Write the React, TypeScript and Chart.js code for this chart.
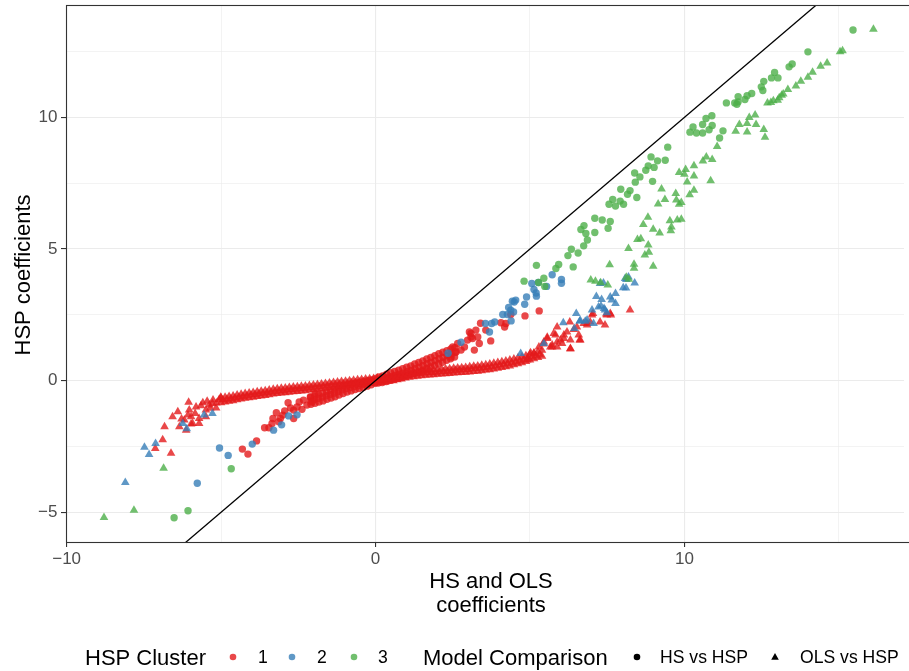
import React, { useEffect, useRef } from "react";
import { Chart, registerables } from "chart.js";

Chart.register(...registerables);

const FONT = '"Liberation Sans", Arial, Helvetica, sans-serif';

// ---- axis settings / ticks ----
const xMin = -10.02;
const xMax = 17.11;
const yMin = -6.13;
const yMax = 14.27;
const xMajorTicks = [-10, 0, 10];
const yMajorTicks = [-5, 0, 5, 10];

const xTitleLines = ["HS and OLS", "coefficients"];
const yTitle = "HSP coefficients";
const clusterLegendTitle = "HSP Cluster";
const clusterLabels = ["1", "2", "3"];
const modelLegendTitle = "Model Comparison";
const modelLabels = ["HS vs HSP", "OLS vs HSP"];

// ---- data: [HS/OLS coefficient, HSP coefficient] ----
// Cluster 1, HS vs HSP (circles)
const hsCluster1: number[][] = [
  [-2.10,-0.63],[-2.10,-0.77],[-2.09,-0.90],
  [-1.97,-0.58],[-1.98,-0.72],[-1.96,-0.86],
  [-1.84,-0.53],[-1.85,-0.67],[-1.83,-0.81],
  [-1.71,-0.48],[-1.72,-0.62],[-1.70,-0.77],
  [-1.58,-0.43],[-1.59,-0.57],[-1.57,-0.71],
  [-1.45,-0.38],[-1.46,-0.52],[-1.44,-0.66],
  [-1.32,-0.33],[-1.33,-0.47],[-1.31,-0.61],
  [-1.19,-0.28],[-1.20,-0.41],[-1.18,-0.55],
  [-1.06,-0.22],[-1.07,-0.35],[-1.05,-0.49],
  [-0.93,-0.17],[-0.94,-0.30],[-0.92,-0.43],
  [-0.80,-0.13],[-0.81,-0.26],[-0.79,-0.39],
  [-0.67,-0.10],[-0.68,-0.22],[-0.66,-0.34],
  [-0.54,-0.07],[-0.55,-0.19],[-0.53,-0.30],
  [-0.41,-0.04],[-0.42,-0.15],[-0.40,-0.26],
  [-0.28,-0.01],[-0.29,-0.11],[-0.27,-0.21],
  [-0.15,0.02],[-0.16,-0.07],[-0.14,-0.16],
  [-0.02,0.06],[-0.03,-0.02],[-0.01,-0.10],
  [0.10,0.14],[0.11,0.02],[0.09,-0.09],
  [0.23,0.18],[0.24,0.05],[0.22,-0.07],
  [0.36,0.24],[0.37,0.10],[0.35,-0.03],
  [0.49,0.30],[0.50,0.15],[0.48,0.01],
  [0.62,0.35],[0.63,0.20],[0.61,0.05],
  [0.75,0.40],[0.76,0.24],[0.74,0.09],
  [0.88,0.45],[0.89,0.28],[0.87,0.12],
  [1.01,0.51],[1.02,0.34],[1.00,0.17],
  [1.14,0.56],[1.15,0.39],[1.13,0.22],
  [1.27,0.63],[1.28,0.45],[1.26,0.27],
  [1.40,0.69],[1.41,0.51],[1.39,0.33],
  [1.53,0.75],[1.54,0.57],[1.52,0.39],
  [1.66,0.82],[1.67,0.64],[1.65,0.46],
  [1.79,0.88],[1.80,0.70],[1.78,0.52],
  [1.92,0.95],[1.93,0.76],[1.91,0.58],
  [2.05,1.02],[2.06,0.83],[2.04,0.64],
  [2.18,1.08],[2.19,0.89],[2.17,0.70],
  [2.31,1.14],[2.32,0.95],[2.30,0.77],
  [2.44,1.20],[2.45,1.01],[2.43,0.83],
  [2.57,1.25],[2.58,1.08],[2.56,0.90],
  [-2.33,-0.74],[-2.11,-0.62],[-2.06,-0.81],[-1.95,-0.49],[-2.47,-0.81],[-2.38,-1.09],
  [-2.22,-0.93],[-2.54,-1.00],[-2.65,-1.12],[-2.65,-1.44],[-2.83,-0.84],[-2.94,-1.15],
  [-3.08,-1.44],[-3.13,-1.56],[-3.21,-1.22],[-3.32,-1.44],[-3.35,-1.63],[-3.45,-1.79],
  [-3.59,-1.79],[-3.85,-2.29],[-4.13,-2.79],[-4.31,-2.60],[-2.75,-1.04],[-3.00,-1.31],
  [2.50,1.28],[2.66,1.41],[2.77,1.16],[2.88,1.28],[3.09,1.79],[3.14,1.60],[3.31,1.66],
  [3.36,1.41],[3.20,1.16],[3.40,2.18],[3.57,1.92],[3.73,1.51],[4.06,2.20],[4.22,2.17],
  [4.18,2.04],[4.38,2.51],[4.84,2.46],[5.30,2.65],[2.98,1.54],[3.25,1.92],[3.04,1.85],
  [2.61,1.09],[2.45,0.90],[3.09,1.66],
];

// Cluster 1, OLS vs HSP (triangles)
const olsCluster1: number[][] = [
  [-5.00,-0.66],[-5.00,-0.84],[-4.87,-0.63],[-4.87,-0.81],[-4.74,-0.60],[-4.74,-0.78],
  [-4.61,-0.58],[-4.61,-0.76],[-4.48,-0.55],[-4.48,-0.73],[-4.35,-0.52],[-4.35,-0.70],
  [-4.22,-0.49],[-4.22,-0.67],[-4.09,-0.47],[-4.09,-0.65],[-3.96,-0.45],[-3.96,-0.63],
  [-3.83,-0.42],[-3.83,-0.60],[-3.70,-0.40],[-3.70,-0.58],[-3.57,-0.38],[-3.57,-0.56],
  [-3.44,-0.36],[-3.44,-0.54],[-3.31,-0.33],[-3.31,-0.51],[-3.18,-0.31],[-3.18,-0.49],
  [-3.05,-0.29],[-3.05,-0.47],[-2.92,-0.28],[-2.92,-0.46],[-2.79,-0.26],[-2.79,-0.44],
  [-2.66,-0.24],[-2.66,-0.42],[-2.53,-0.23],[-2.53,-0.41],[-2.40,-0.21],[-2.40,-0.39],
  [-2.27,-0.20],[-2.27,-0.38],[-2.14,-0.18],[-2.14,-0.36],[-2.01,-0.17],[-2.01,-0.35],
  [-1.88,-0.15],[-1.88,-0.33],[-1.75,-0.13],[-1.75,-0.31],[-1.62,-0.11],[-1.62,-0.29],
  [-1.49,-0.09],[-1.49,-0.27],[-1.36,-0.07],[-1.36,-0.25],[-1.23,-0.05],[-1.23,-0.23],
  [-1.10,-0.03],[-1.10,-0.21],[-0.97,-0.02],[-0.97,-0.20],[-0.84,0.00],[-0.84,-0.18],
  [-0.71,0.01],[-0.71,-0.17],[-0.58,0.03],[-0.58,-0.15],[-0.45,0.04],[-0.45,-0.14],
  [-0.32,0.06],[-0.32,-0.12],[-0.19,0.07],[-0.19,-0.11],[-0.06,0.08],[-0.06,-0.10],
  [-4.94,-0.74],[-4.81,-0.71],[-4.68,-0.69],[-4.55,-0.66],[-4.42,-0.63],[-4.29,-0.60],
  [-4.16,-0.57],[-4.03,-0.55],[-3.90,-0.53],[-3.77,-0.50],[-3.64,-0.48],[-3.51,-0.46],
  [-3.38,-0.44],[-3.25,-0.41],[-3.12,-0.39],[-2.99,-0.38],[-2.86,-0.36],[-2.73,-0.34],
  [-2.60,-0.33],[-2.47,-0.31],[-2.34,-0.29],[-2.21,-0.28],[-2.08,-0.26],[-1.95,-0.25],
  [-1.82,-0.23],[-1.69,-0.21],[-1.56,-0.19],[-1.43,-0.17],[-1.30,-0.15],[-1.17,-0.13],
  [-1.04,-0.12],[-0.91,-0.10],[-0.78,-0.08],[-0.65,-0.07],[-0.52,-0.05],[-0.39,-0.04],
  [-0.26,-0.02],[-0.13,-0.01],
  [0.06,0.09],[0.06,-0.09],[0.19,0.11],[0.19,-0.07],[0.32,0.13],[0.32,-0.05],
  [0.45,0.16],[0.45,-0.02],[0.58,0.18],[0.58,0.00],[0.71,0.21],[0.71,0.03],
  [0.84,0.24],[0.84,0.06],[0.97,0.28],[0.97,0.10],[1.10,0.31],[1.10,0.13],
  [1.23,0.33],[1.23,0.15],[1.36,0.35],[1.36,0.17],[1.49,0.37],[1.49,0.19],
  [1.62,0.38],[1.62,0.20],[1.75,0.39],[1.75,0.21],[1.88,0.40],[1.88,0.22],
  [2.01,0.42],[2.01,0.24],[2.14,0.43],[2.14,0.25],[2.27,0.44],[2.27,0.26],
  [2.40,0.45],[2.40,0.27],[2.53,0.47],[2.53,0.29],[2.66,0.48],[2.66,0.30],
  [2.79,0.49],[2.79,0.31],[2.92,0.50],[2.92,0.32],[3.05,0.53],[3.05,0.33],
  [3.18,0.55],[3.18,0.35],[3.31,0.56],[3.31,0.36],[3.44,0.58],[3.44,0.38],
  [3.57,0.60],[3.57,0.40],[3.70,0.63],[3.70,0.41],[3.83,0.66],[3.83,0.44],
  [3.96,0.69],[3.96,0.47],[4.09,0.72],[4.09,0.50],[4.22,0.75],[4.22,0.53],
  [4.35,0.78],[4.35,0.56],[4.48,0.82],[4.48,0.60],[4.61,0.86],[4.61,0.64],
  [4.74,0.90],[4.74,0.68],[4.87,0.95],[4.87,0.73],[5.00,1.00],[5.00,0.78],
  [5.13,1.05],[5.13,0.83],[5.26,1.10],[5.26,0.88],[5.39,1.15],[5.39,0.93],
  [0.12,0.01],[0.25,0.03],[0.38,0.05],[0.51,0.08],[0.64,0.10],[0.77,0.13],
  [0.90,0.16],[1.03,0.20],[1.16,0.23],[1.29,0.25],[1.42,0.27],[1.55,0.29],
  [1.68,0.30],[1.81,0.31],[1.94,0.32],[2.07,0.34],[2.20,0.35],[2.33,0.36],
  [2.46,0.37],[2.59,0.39],[2.72,0.40],[2.85,0.41],[2.98,0.42],[3.11,0.44],
  [3.24,0.46],[3.37,0.47],[3.50,0.49],[3.63,0.51],[3.76,0.53],[3.89,0.56],
  [4.02,0.59],[4.15,0.62],[4.28,0.65],[4.41,0.68],[4.54,0.72],[4.67,0.76],
  [4.80,0.80],[4.93,0.85],[5.06,0.90],[5.19,0.95],[5.32,1.00],
  [-6.05,-0.82],[-5.59,-0.84],[-5.26,-0.74],[-5.01,-0.63],[-6.40,-1.18],[-6.57,-1.37],
  [-6.19,-1.50],[-5.92,-1.63],[-5.71,-1.63],[-6.83,-1.75],[-6.35,-1.75],[-6.13,-1.88],
  [-6.89,-2.25],[-7.13,-2.58],[-6.62,-2.76],[-5.84,-1.25],[-5.49,-1.37],[-5.97,-1.37],
  [-6.03,-1.12],[-6.28,-1.46],[-6.07,-1.31],[-5.71,-1.44],[-5.49,-1.12],[-5.81,-1.00],
  [-5.28,-0.87],[-5.06,-0.72],[-5.97,-1.65],[-5.38,-0.93],[-5.16,-1.04],[-5.45,-0.78],
  [-5.65,-0.95],[-5.15,-0.85],[-5.35,-1.05],
  [5.02,1.06],[5.45,1.47],[5.56,1.65],[5.77,1.79],[5.88,1.47],[5.66,1.28],[6.31,1.20],
  [6.10,1.73],[5.88,2.04],[6.20,1.85],[6.52,2.04],[6.85,2.17],[6.95,2.23],[7.27,2.23],
  [7.43,2.11],[5.99,1.54],[6.31,1.54],[5.88,1.28],[6.61,1.54],[6.42,1.94],[6.29,2.23],
  [6.74,2.17],[7.49,2.49],[7.60,2.55],[8.24,2.68],[7.04,2.55],[5.43,1.39],[5.72,1.28],
  [5.29,1.28],[5.13,1.03],[4.91,0.78],[6.58,1.73],[5.83,1.73],[5.56,1.60],[6.10,1.60],
  [6.31,1.22],[5.72,1.35],[6.04,1.41],[6.85,2.11],[7.01,2.49],[7.62,2.49],[7.47,2.53],
  [6.63,1.54],
];

// Cluster 2, HS vs HSP (circles)
const hsCluster2: number[][] = [
  [5.72,4.02],[6.02,3.84],[6.02,3.70],[5.54,3.58],[5.06,3.69],[5.27,3.73],[5.13,3.46],
  [5.20,3.33],[5.21,3.21],[4.89,3.18],[4.54,3.06],[4.43,3.02],[4.31,2.78],[4.38,2.68],
  [4.47,2.61],[4.83,2.90],[4.12,2.51],[4.27,2.51],[4.39,2.27],[3.86,2.23],[3.56,2.17],
  [3.76,2.17],[3.69,1.85],[2.77,1.46],[2.35,1.04],[4.49,2.99],
  [-5.05,-2.56],[-4.77,-2.84],[-5.77,-3.90],[-3.99,-2.41],[-3.30,-1.88],[-3.04,-1.68],
  [-2.81,-1.34],[-2.54,-1.30],
];

// Cluster 2, OLS vs HSP (triangles)
const olsCluster2: number[][] = [
  [4.70,1.03],[5.45,1.41],[6.08,2.20],[6.50,2.55],[6.61,2.26],[6.85,2.30],[7.06,2.17],
  [7.15,3.20],[7.32,3.08],[7.30,2.84],[7.40,2.74],[7.60,3.18],[7.77,3.31],[7.65,3.06],
  [7.77,2.93],[8.02,3.53],[8.19,3.94],[8.12,3.84],[8.39,3.71],[8.08,3.88],[8.11,3.52],
  [7.01,2.68],[7.43,2.68],[7.22,2.80],[7.49,2.58],[6.63,2.28],[6.79,2.26],[6.44,1.98],
  [7.27,3.69],[7.38,3.71],
  [-5.55,-1.31],[-5.28,-1.25],[-6.24,-1.63],[-6.11,-1.83],[-7.48,-2.53],[-7.12,-2.39],
  [-7.33,-2.81],[-8.10,-3.87],
];

// Cluster 3, HS vs HSP (circles)
const hsCluster3: number[][] = [
  [15.46,13.32],[14.00,12.49],[13.49,12.03],[13.39,11.92],[12.92,11.71],[12.82,11.50],
  [13.03,11.50],[12.57,11.37],[12.49,11.16],[12.54,11.02],[12.18,10.91],[12.03,10.82],
  [11.96,10.68],[11.74,10.79],[11.74,10.59],[11.63,10.55],[11.70,10.50],[11.36,10.55],
  [10.89,10.06],[10.70,9.96],[10.59,9.73],[10.90,9.69],[10.80,9.53],[10.28,9.64],
  [10.18,9.44],[10.39,9.41],[10.59,9.41],[11.25,9.49],[11.14,9.22],[9.46,8.87],
  [8.92,8.50],[9.13,8.35],[9.38,8.37],[8.83,8.16],[8.75,7.99],[9.02,8.10],
  [8.39,7.89],[8.56,7.74],[8.41,7.54],[8.97,7.57],[7.94,7.27],[8.24,7.22],
  [8.16,7.08],[8.46,6.96],[7.68,6.88],[7.92,6.82],[7.56,6.70],[7.77,6.63],
  [8.03,6.70],[7.10,6.17],[7.34,6.10],[7.60,6.05],[7.53,5.79],[6.75,5.89],
  [6.65,5.74],[6.81,5.59],[7.10,5.63],[6.86,5.34],[6.74,5.12],[6.34,4.99],
  [6.23,4.75],[6.56,4.85],[5.93,4.41],[5.84,4.26],[6.40,4.32],[5.21,4.38],
  [4.81,3.78],[5.45,3.89],[5.28,3.73],[5.48,3.58],
  [-4.67,-3.35],[-6.07,-4.94],[-6.52,-5.21],
];

// Cluster 3, OLS vs HSP (triangles)
const olsCluster3: number[][] = [
  [16.12,13.35],[15.12,12.53],[15.04,12.49],[14.62,12.07],[14.41,11.94],[14.15,11.72],
  [14.00,11.53],[13.77,11.37],[13.61,11.19],[13.35,11.06],[13.20,10.89],[13.15,10.84],
  [13.07,10.75],[13.02,10.65],[12.88,10.63],[12.80,10.57],[12.69,10.55],[12.29,10.09],
  [12.10,10.00],[11.78,9.73],[12.03,9.77],[12.32,9.73],[11.66,9.47],[12.03,9.45],
  [12.57,9.54],[12.61,9.25],[11.06,8.89],[10.90,8.40],[10.71,8.50],[10.60,8.34],
  [10.31,8.16],[10.04,8.02],[9.83,7.91],[10.00,7.84],[10.31,7.77],[10.09,7.55],
  [10.85,7.59],[9.26,7.28],[9.72,7.11],[10.31,7.23],[10.17,7.06],[9.37,6.88],
  [9.15,6.71],[9.74,6.86],[9.83,6.70],[9.90,6.77],[8.82,6.21],[8.67,5.93],
  [8.99,5.75],[9.20,5.61],[9.53,6.07],[9.77,6.10],[9.90,6.13],[9.58,5.84],
  [9.56,5.69],[8.48,5.36],[8.59,5.39],[8.83,5.15],[8.19,5.02],[8.72,4.77],
  [8.85,4.88],[7.58,4.40],[8.37,4.42],[8.37,4.27],[8.99,4.35],[6.97,3.82],
  [7.12,3.78],[7.29,3.72],[7.52,3.63],[8.12,3.93],[8.20,3.85],
  [-6.86,-3.33],[-7.82,-4.92],[-8.79,-5.20],
];

// y = x reference line end points
const refLine: number[][] = [[-8, -8], [16, 16]];

const RED = "rgba(228,26,28,0.8)";
const BLUE = "rgba(55,126,184,0.8)";
const GREEN = "rgba(77,175,74,0.8)";
const clusterColors = [RED, BLUE, GREEN];

const CIRCLE_R = 3.7;
const TRI_R = 5.0;

const fmtTick = (v: number) => (v < 0 ? "\u2212" + Math.abs(v) : String(v));

const toPts = (a: number[][]) => a.map(([x, y]) => ({ x, y }));

function drawTriangle(ctx: CanvasRenderingContext2D, x: number, y: number, r: number) {
  ctx.beginPath();
  ctx.moveTo(x, y - r);
  ctx.lineTo(x + r * 0.866, y + r * 0.5);
  ctx.lineTo(x - r * 0.866, y + r * 0.5);
  ctx.closePath();
  ctx.fill();
}

const decorPlugin = {
  id: "decor",
  afterDraw(chart: any) {
    const { ctx, chartArea } = chart;
    ctx.save();
    // panel border
    ctx.strokeStyle = "#333333";
    ctx.lineWidth = 1.1;
    ctx.strokeRect(chartArea.left + 0.5, chartArea.top + 0.5, chartArea.right - chartArea.left + 20, chartArea.bottom - chartArea.top);

    // axis titles
    ctx.fillStyle = "#000000";
    ctx.font = `22px ${FONT}`;
    ctx.textAlign = "center";
    ctx.textBaseline = "alphabetic";
    ctx.fillText(xTitleLines[0], 491, 587.5);
    ctx.fillText(xTitleLines[1], 491, 611.5);

    ctx.save();
    ctx.translate(29.5, 275);
    ctx.rotate(-Math.PI / 2);
    ctx.fillText(yTitle, 0, 0);
    ctx.restore();

    // legend
    const ly = 657;
    ctx.textAlign = "left";
    ctx.font = `22px ${FONT}`;
    ctx.fillText(clusterLegendTitle, 85, ly + 8);
    ctx.fillText(modelLegendTitle, 423, ly + 8);

    const dotX = [233, 292, 354];
    const labX = [258, 317, 378];
    ctx.font = `17.6px ${FONT}`;
    for (let i = 0; i < 3; i++) {
      ctx.fillStyle = clusterColors[i];
      ctx.beginPath();
      ctx.arc(dotX[i], ly, 3.3, 0, Math.PI * 2);
      ctx.fill();
      ctx.fillStyle = "#000000";
      ctx.fillText(clusterLabels[i], labX[i], ly + 6.3);
    }
    ctx.fillStyle = "#000000";
    ctx.beginPath();
    ctx.arc(637, ly, 3.3, 0, Math.PI * 2);
    ctx.fill();
    ctx.fillText(modelLabels[0], 660, ly + 6.3);
    drawTriangle(ctx, 775, ly + 0.5, 4.4);
    ctx.fillText(modelLabels[1], 800, ly + 6.3);
    ctx.restore();
  },
};

export default function App() {
  const ref = useRef<HTMLCanvasElement | null>(null);

  useEffect(() => {
    if (!ref.current) return;
    const isMajorX = (v: number) => xMajorTicks.includes(v);
    const isMajorY = (v: number) => yMajorTicks.includes(v);
    const zeroPad = (s: any) => {
      s.paddingTop = 0;
      s.paddingBottom = 0;
      s.paddingLeft = 0;
      s.paddingRight = 0;
    };
    const mk = (data: number[][], style: string, color: string, order: number) => ({
      data: toPts(data),
      pointStyle: style,
      pointRadius: style === "triangle" ? TRI_R : CIRCLE_R,
      backgroundColor: color,
      borderColor: color,
      borderWidth: 0,
      showLine: false,
      order,
    });
    const chart = new Chart(ref.current, {
      type: "scatter",
      data: {
        datasets: [
          mk(hsCluster1, "circle", RED, 7),
          mk(olsCluster1, "triangle", RED, 6),
          mk(hsCluster2, "circle", BLUE, 5),
          mk(olsCluster2, "triangle", BLUE, 4),
          mk(hsCluster3, "circle", GREEN, 3),
          mk(olsCluster3, "triangle", GREEN, 2),
          {
            data: toPts(refLine),
            showLine: true,
            borderColor: "#000000",
            borderWidth: 1.3,
            pointRadius: 0,
            fill: false,
            order: 0,
          } as any,
        ],
      },
      options: {
        responsive: false,
        animation: false,
        events: [],
        layout: { padding: { top: 5, left: 0, right: 0, bottom: 0 } },
        plugins: { legend: { display: false }, tooltip: { enabled: false } },
        scales: {
          x: {
            type: "linear",
            min: xMin,
            max: xMax,
            afterFit: (s: any) => {
              s.height = 129;
              zeroPad(s);
            },
            border: { display: false },
            grid: {
              color: "#EBEBEB",
              lineWidth: (c: any) => (isMajorX(c.tick?.value) ? 1.1 : 0.6),
              drawTicks: true,
              tickLength: 5,
              tickWidth: 1.1,
              tickColor: (c: any) => (isMajorX(c.tick?.value) ? "#333333" : "rgba(0,0,0,0)"),
            },
            ticks: {
              stepSize: 5,
              includeBounds: false,
              autoSkip: false,
              maxRotation: 0,
              padding: 2,
              color: "#4D4D4D",
              font: { family: FONT, size: 17 },
              callback: (v: any) => (isMajorX(Number(v)) ? fmtTick(Number(v)) : ""),
            },
          },
          y: {
            type: "linear",
            min: yMin,
            max: yMax,
            afterFit: (s: any) => {
              s.width = 66;
              zeroPad(s);
            },
            border: { display: false },
            grid: {
              color: "#EBEBEB",
              lineWidth: (c: any) => (isMajorY(c.tick?.value) ? 1.1 : 0.6),
              drawTicks: true,
              tickLength: 5,
              tickWidth: 1.1,
              tickColor: (c: any) => (isMajorY(c.tick?.value) ? "#333333" : "rgba(0,0,0,0)"),
            },
            ticks: {
              stepSize: 2.5,
              includeBounds: false,
              autoSkip: false,
              padding: 3.5,
              color: "#4D4D4D",
              font: { family: FONT, size: 17 },
              callback: (v: any) => (isMajorY(Number(v)) ? fmtTick(Number(v)) : ""),
            },
          },
        },
      },
      plugins: [decorPlugin],
    } as any);
    return () => chart.destroy();
  }, []);

  return (
    <div style={{ position: "absolute", left: 0, top: 0, width: 909, height: 671, background: "#ffffff" }}>
      <canvas ref={ref} width={909} height={671} style={{ width: 909, height: 671, display: "block" }} />
    </div>
  );
}
